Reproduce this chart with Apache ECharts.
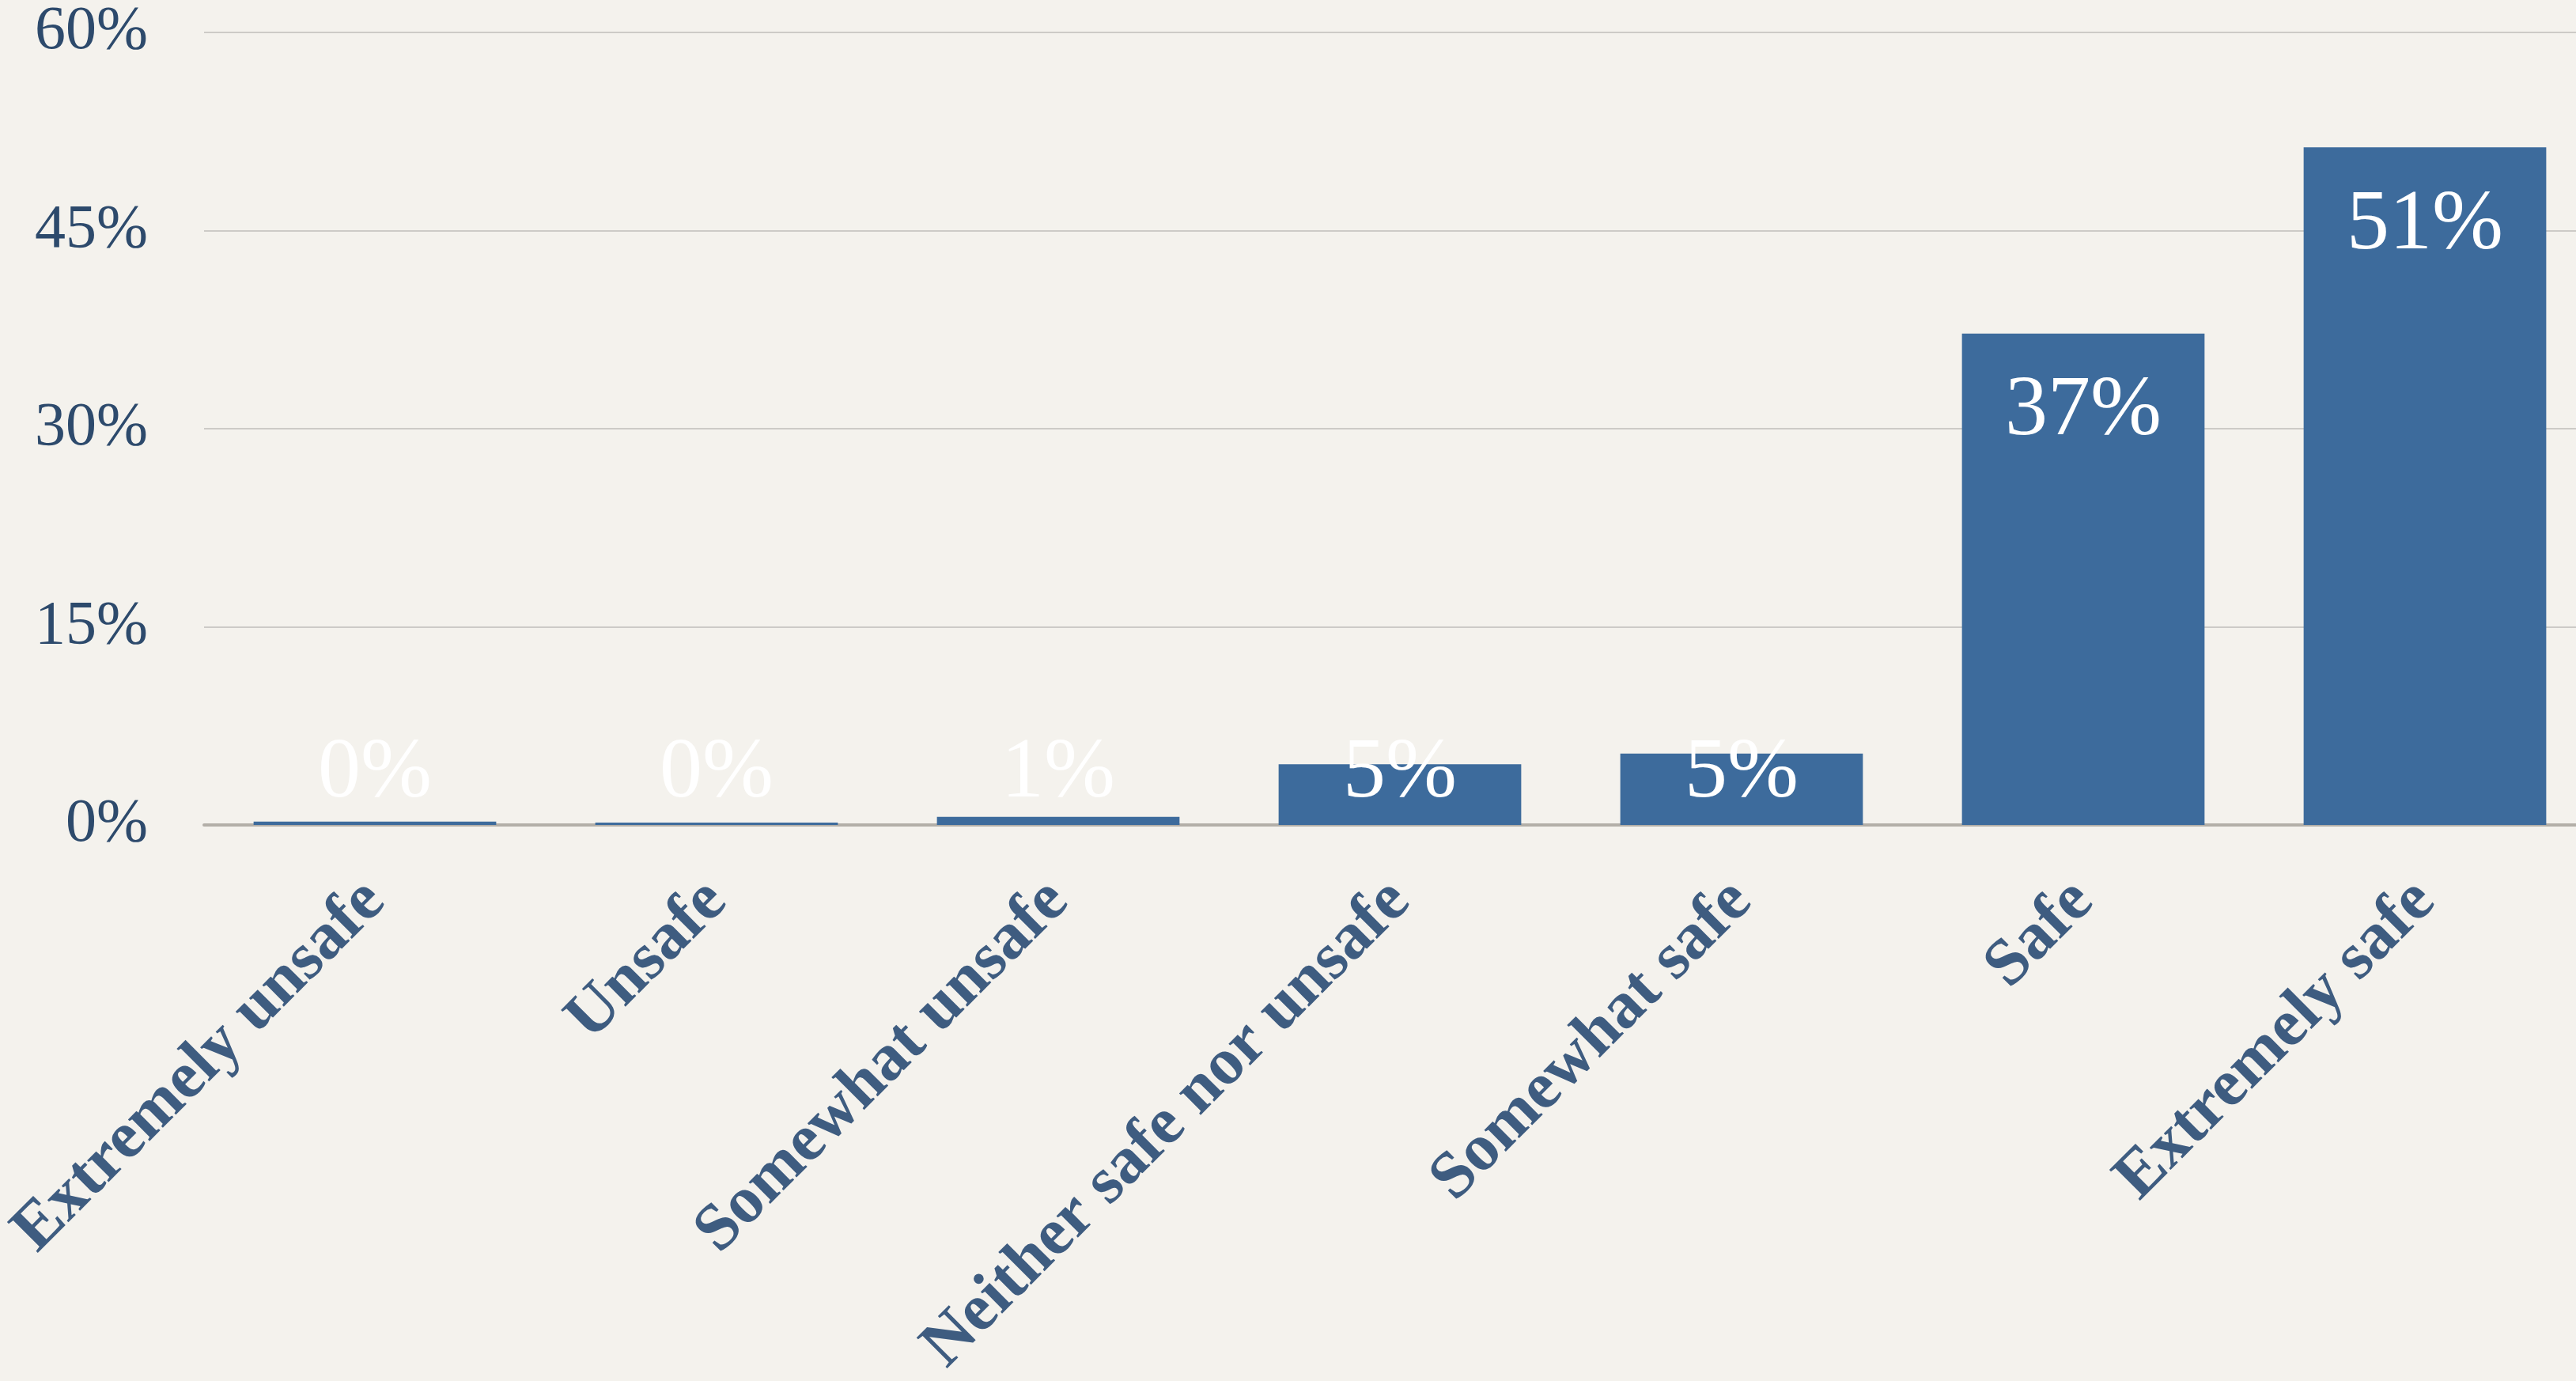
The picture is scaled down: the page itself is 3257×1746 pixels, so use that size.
<!DOCTYPE html>
<html>
<head>
<meta charset="utf-8">
<script src="https://cdn.jsdelivr.net/npm/echarts@6/dist/echarts.min.js"></script>
<style>
html,body{margin:0;padding:0;background:#f4f2ed;}
#chart{width:3257px;height:1746px;}
</style>
</head>
<body>
<div id="chart"></div>
<script>
const categories = ['Extremely unsafe', 'Unsafe', 'Somewhat unsafe', 'Neither safe nor unsafe', 'Somewhat safe', 'Safe', 'Extremely safe'];
const values = [0.25, 0.18, 0.62, 4.6, 5.4, 37.2, 51.3];
const yTicks = [0, 15, 30, 45, 60];

const chart = echarts.init(document.getElementById('chart'));
const data = values.map(v => ({
  value: v,
  label: v < 10
    ? { position: 'insideBottom', distance: 10 }
    : { position: 'insideTop', distance: 45 }
}));
chart.setOption({
  backgroundColor: '#f4f2ed',
  animation: false,
  grid: { left: 258, top: 41, width: 3024, height: 1002, containLabel: false, outerBoundsMode: 'none' },
  xAxis: {
    type: 'category',
    data: categories,
    axisTick: { show: false },
    axisLine: { lineStyle: { color: '#b3afa8', width: 4 } },
    axisLabel: {
      interval: 0,
      rotate: 45,
      margin: 84,
      fontFamily: 'Liberation Serif',
      fontWeight: 'bold',
      fontSize: 84,
      color: '#3e5c80'
    }
  },
  yAxis: {
    type: 'value',
    min: yTicks[0],
    max: yTicks[yTicks.length - 1],
    interval: 15,
    axisLine: { show: false },
    axisTick: { show: false },
    splitLine: { lineStyle: { color: '#cdcbc7', width: 2 } },
    axisLabel: {
      formatter: v => v + '%',
      margin: 71,
      fontFamily: 'Liberation Serif',
      fontSize: 78,
      color: '#2d4a6c'
    }
  },
  series: [{
    type: 'bar',
    data: data,
    barCategoryGap: '29%',
    itemStyle: { color: '#3d6b9c' },
    label: {
      show: true,
      formatter: p => Math.round(p.value) + '%',
      fontFamily: 'Liberation Serif',
      fontSize: 108,
      color: '#ffffff'
    }
  }]
});
</script>
</body>
</html>
